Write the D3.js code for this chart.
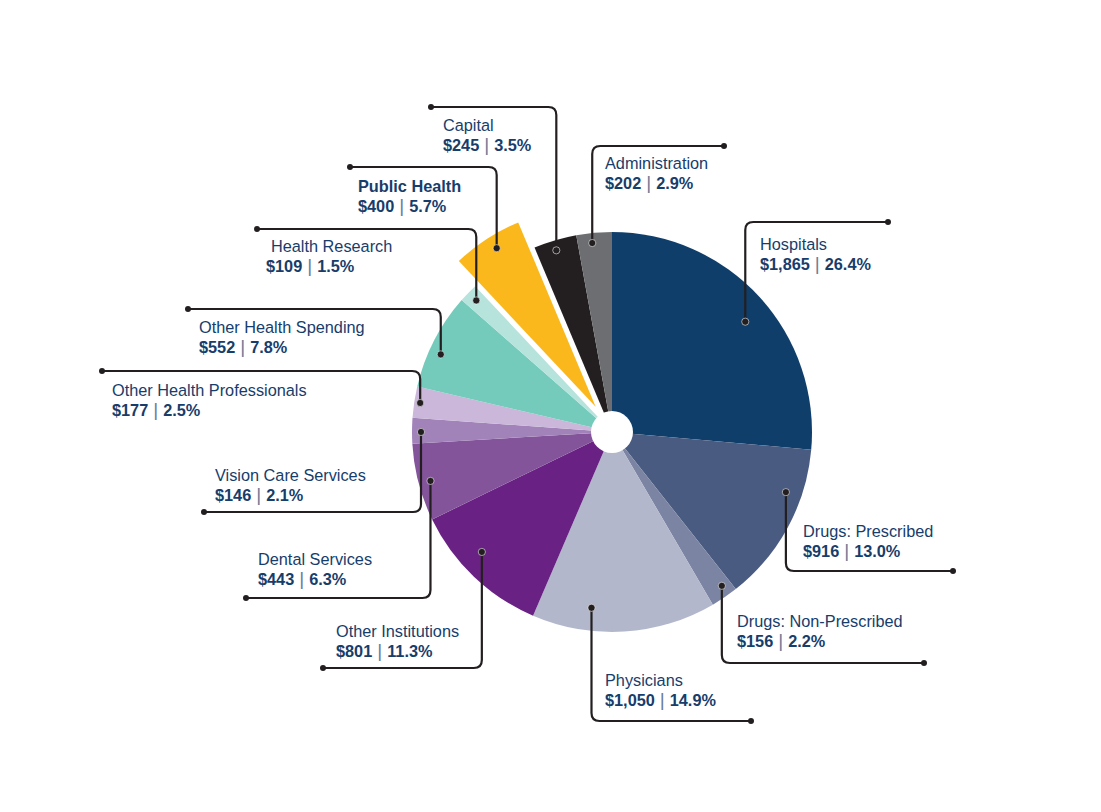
<!DOCTYPE html>
<html>
<head>
<meta charset="utf-8">
<script src="https://cdn.jsdelivr.net/npm/d3@7"></script>
<style>
  html, body { margin: 0; padding: 0; background: #fff; }
  svg { display: block; font-family: "Liberation Sans", Arial, Helvetica, sans-serif; }
</style>
</head>
<body>
<svg id="chart" width="1101" height="812"></svg>
<script>
// ---- Data ----
const categories = ["Hospitals", "Drugs: Prescribed", "Drugs: Non-Prescribed", "Physicians",
  "Other Institutions", "Dental Services", "Vision Care Services", "Other Health Professionals",
  "Other Health Spending", "Health Research", "Public Health", "Capital", "Administration"];
const amounts = [1865, 916, 156, 1050, 801, 443, 146, 177, 552, 109, 400, 245, 202];
const amountLabels = ["$1,865", "$916", "$156", "$1,050", "$801", "$443", "$146", "$177", "$552", "$109", "$400", "$245", "$202"];
const percentLabels = ["26.4%", "13.0%", "2.2%", "14.9%", "11.3%", "6.3%", "2.1%", "2.5%", "7.8%", "1.5%", "5.7%", "3.5%", "2.9%"];
const highlighted = ["Public Health"];

// ---- Styles / layout ----
const colors = ["#0f3e6b", "#4a5b81", "#7c84a4", "#b3b7cb", "#692283", "#84549b", "#a283b9",
  "#cab7d9", "#75cbbb", "#b6e3db", "#fbb81c", "#231f20", "#6d6e71"];
const textColor = "#173d6b";
const lineColor = "#231f20";

// leader layout per label: t = angular fraction inside slice for the dot, r = dot radius,
// ey = elbow y, ex = end x, tx = text x, ny = name baseline
const layout = [
  {t: .53, r: 173, ey: 222, ex: 888, tx: 760, ny: 250},
  {t: .30, r: 184, ey: 571, ex: 953, tx: 803, ny: 537},
  {t: .34, r: 189, ey: 663, ex: 924, tx: 737, ny: 627},
  {t: .69, r: 177, ey: 721, ex: 751, tx: 605, ny: 686},
  {t: .59, r: 177, ey: 668, ex: 323, tx: 336, ny: 637},
  {t: .48, r: 188, ey: 598, ex: 246, tx: 258, ny: 565},
  {t: .45, r: 191, ey: 512, ex: 204, tx: 215, ny: 481},
  {t: .50, r: 194, ey: 371, ex: 102, tx: 112, ny: 396},
  {t: .40, r: 188, ey: 309, ex: 188, tx: 199, ny: 333},
  {t: .51, r: 189, ey: 229, ex: 257, tx: 271, ny: 252, vdx: -5},
  {t: .55, r: 187, ey: 167, ex: 350, tx: 358, ny: 192},
  {t: .46, r: 190, ey: 107, ex: 431, tx: 443, ny: 131},
  {t: .42, r: 190, ey: 146, ex: 724, tx: 605, ny: 169}
];

const cx = 612, cy = 432, R = 200, R0 = 21, explode = 30, cr = 8;

const svg = d3.select("#chart");
const g = svg.append("g").attr("transform", `translate(${cx},${cy})`);

const data = categories.map((c, i) => ({name: c, value: amounts[i], i}));
const pie = d3.pie().value(d => d.value).sort(null);
const arcs = pie(data);
const arc = d3.arc().innerRadius(0).outerRadius(R);

function offsetOf(a) {
  if (!highlighted.includes(a.data.name)) return [0, 0];
  const m = (a.startAngle + a.endAngle) / 2;
  return [Math.sin(m) * explode, -Math.cos(m) * explode];
}

g.selectAll("path.slice").data(arcs).join("path")
  .attr("class", "slice")
  .attr("d", arc)
  .attr("fill", d => colors[d.data.i])
  .attr("transform", d => { const o = offsetOf(d); return `translate(${o[0]},${o[1]})`; });

g.append("circle").attr("r", R0).attr("fill", "#fff");

// ---- Leaders ----
const lead = svg.append("g");
arcs.forEach(a => {
  const L = layout[a.data.i];
  const o = offsetOf(a);
  const ang = a.startAngle + (a.endAngle - a.startAngle) * L.t;
  const x = cx + o[0] + Math.sin(ang) * L.r;
  const y = cy + o[1] - Math.cos(ang) * L.r;
  const sy = L.ey < y ? 1 : -1;
  const sx = L.ex > x ? 1 : -1;
  const p = d3.path();
  p.moveTo(x, y);
  p.lineTo(x, L.ey + sy * cr);
  p.quadraticCurveTo(x, L.ey, x + sx * cr, L.ey);
  p.lineTo(L.ex, L.ey);
  lead.append("path").attr("d", p.toString()).attr("fill", "none")
    .attr("stroke", lineColor).attr("stroke-width", 2.2);
  lead.append("circle").attr("cx", x).attr("cy", y).attr("r", 3.6)
    .attr("fill", lineColor).attr("stroke", "#fff").attr("stroke-width", 0.8).attr("stroke-opacity", 0.7);
  lead.append("circle").attr("cx", L.ex).attr("cy", L.ey).attr("r", 3)
    .attr("fill", lineColor);

  const isBold = highlighted.includes(a.data.name);
  svg.append("text").attr("x", L.tx).attr("y", L.ny)
    .attr("fill", textColor).attr("font-size", 16.3)
    .attr("font-weight", isBold ? "bold" : "normal")
    .text(a.data.name);
  const vt = svg.append("text").attr("x", L.tx + (L.vdx || 0)).attr("y", L.ny + 20)
    .attr("fill", textColor).attr("font-size", 16.3).attr("font-weight", "bold");
  vt.append("tspan").text(amountLabels[a.data.i]);
  vt.append("tspan").attr("dx", 5).attr("font-weight", "normal").attr("fill", "#6a7d99")
    .attr("font-size", 19).text("|");
  vt.append("tspan").attr("dx", 5).text(percentLabels[a.data.i]);
});
</script>
</body>
</html>
